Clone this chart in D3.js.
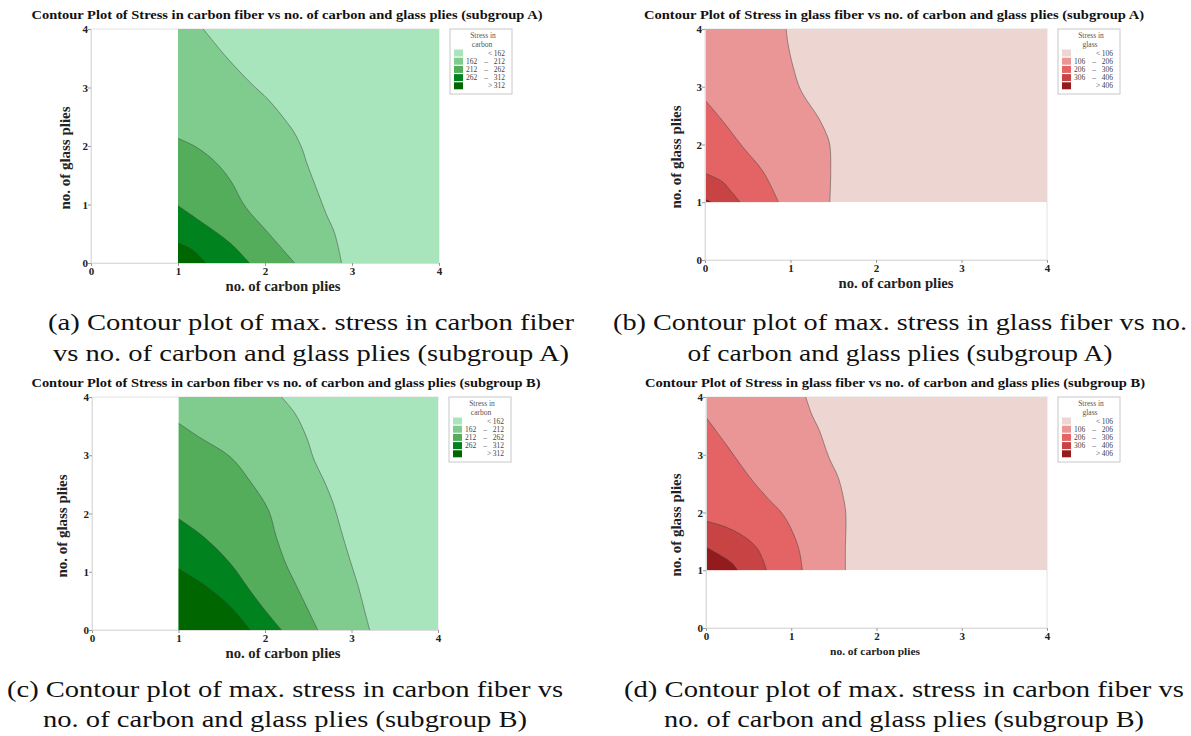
<!DOCTYPE html>
<html>
<head>
<meta charset="utf-8">
<script src="https://cdn.jsdelivr.net/npm/d3@7"></script>
<style>
  html, body { margin: 0; padding: 0; background: #fff; }
  svg { display: block; }
  text { font-family: "Liberation Serif", "DejaVu Serif", serif; }
</style>
</head>
<body>
<script>
// ---------------- DATA ----------------
const xTickValues = [0, 1, 2, 3, 4];
const yTickValues = [0, 1, 2, 3, 4];

const carbonBins = [[null, 162], [162, 212], [212, 262], [262, 312], [312, null]];
const glassBins  = [[null, 106], [106, 206], [206, 306], [306, 406], [406, null]];

const greenFills = ["#a8e5bd", "#80cc8e", "#53ad5a", "#00821f", "#006600"];
const redFills   = ["#edd6d1", "#eb9696", "#e46465", "#c84444", "#931a1d"];

// contour boundaries, [no. of carbon plies, no. of glass plies]
// (a) stress in carbon fiber, subgroup A
const carbonA_162 = [[1.29,4],[1.55,3.53],[1.84,3.07],[2.04,2.79],[2.26,2.39],[2.34,2.22],[2.43,1.94],[2.48,1.71],[2.61,1.2],[2.70,0.85],[2.80,0.51],[2.88,0]];
const carbonA_212 = [[1,2.13],[1.2,1.99],[1.42,1.74],[1.60,1.42],[1.77,0.97],[2.04,0.51],[2.34,0]];
const carbonA_262 = [[1,0.98],[1.29,0.68],[1.60,0.34],[1.82,0]];
const carbonA_312 = [[1,0.34],[1.16,0.23],[1.32,0]];
// (b) stress in glass fiber, subgroup A
const glassA_106 = [[0.95,4],[0.97,3.75],[1.03,3.35],[1.12,2.94],[1.32,2.48],[1.40,2.25],[1.46,1.99],[1.46,1]];
const glassA_206 = [[0,2.77],[0.20,2.42],[0.44,1.96],[0.68,1.53],[0.86,1]];
const glassA_306 = [[0,1.50],[0.20,1.36],[0.31,1.18],[0.41,1]];
const glassA_406 = [[0,1.05],[0.04,1.025],[0.07,1]];
// (c) stress in carbon fiber, subgroup B
const carbonB_162 = [[2.19,4],[2.35,3.71],[2.48,3.31],[2.57,2.91],[2.68,2.57],[2.79,2.17],[2.88,1.71],[2.97,1.26],[3.08,0.74],[3.15,0.34],[3.21,0]];
const carbonB_212 = [[1,3.55],[1.24,3.31],[1.60,2.97],[1.82,2.57],[2.04,2.06],[2.13,1.6],[2.24,1.14],[2.35,0.8],[2.48,0.4],[2.61,0]];
const carbonB_262 = [[1,1.91],[1.29,1.6],[1.60,1.14],[1.82,0.69],[2.0,0.34],[2.19,0]];
const carbonB_312 = [[1,1.05],[1.33,0.74],[1.60,0.4],[1.83,0]];
// (d) stress in glass fiber, subgroup B
const glassB_106 = [[1.17,4],[1.24,3.70],[1.33,3.42],[1.44,2.96],[1.55,2.61],[1.61,2.27],[1.64,1.98],[1.635,1.36],[1.635,1]];
const glassB_206 = [[0,3.65],[0.23,3.19],[0.54,2.56],[0.71,2.27],[0.91,1.95],[1.04,1.58],[1.10,1.30],[1.13,1]];
const glassB_306 = [[0,1.85],[0.23,1.75],[0.45,1.58],[0.61,1.36],[0.71,1]];
const glassB_406 = [[0,1.40],[0.19,1.24],[0.30,1.13],[0.37,1]];

const panelTitles = [
  "Contour Plot of Stress in carbon fiber vs no. of carbon and glass plies (subgroup A)",
  "Contour Plot of Stress in glass fiber vs no. of carbon and glass plies (subgroup A)",
  "Contour Plot of Stress in carbon fiber vs no. of carbon and glass plies (subgroup B)",
  "Contour Plot of Stress in glass fiber vs no. of carbon and glass plies (subgroup B)"
];
const xAxisTitle = "no. of carbon plies";
const yAxisTitle = "no. of glass plies";
const captions = [
  ["(a) Contour plot of max. stress in carbon fiber", "vs no. of carbon and glass plies (subgroup A)"],
  ["(b) Contour plot of max. stress in glass fiber vs no.", "of carbon and glass plies (subgroup A)"],
  ["(c) Contour plot of max. stress in carbon fiber vs", "no. of carbon and glass plies (subgroup B)"],
  ["(d) Contour plot of max. stress in carbon fiber vs", "no. of carbon and glass plies (subgroup B)"]
];

// ---------------- DRAW ----------------
const svg = d3.select("body").append("svg").attr("width", 1191).attr("height", 736);

const panels = [
  { left: 91, right: 439, top: 29, bottom: 263, xDom: [1, 4], yDom: [0, 4],
    bounds: [carbonA_162, carbonA_212, carbonA_262, carbonA_312], fills: greenFills,
    bins: carbonBins, legendName: "carbon", title: panelTitles[0], titleX: 287, titleY: 19, titleW: 511,
    yTitleX: 65, yTitleY: 158, xTitleX: 283, xTitleY: 291, xTitleSize: 14, xTitleW: 115 },
  { left: 705, right: 1047, top: 29, bottom: 260, xDom: [0, 4], yDom: [1, 4],
    bounds: [glassA_106, glassA_206, glassA_306, glassA_406], fills: redFills,
    bins: glassBins, legendName: "glass", title: panelTitles[1], titleX: 894, titleY: 19, titleW: 500,
    yTitleX: 676, yTitleY: 157, xTitleX: 896, xTitleY: 288, xTitleSize: 14, xTitleW: 115 },
  { left: 92, right: 438, top: 397, bottom: 630, xDom: [1, 4], yDom: [0, 4],
    bounds: [carbonB_162, carbonB_212, carbonB_262, carbonB_312], fills: greenFills,
    bins: carbonBins, legendName: "carbon", title: panelTitles[2], titleX: 286, titleY: 387, titleW: 509,
    yTitleX: 62, yTitleY: 526, xTitleX: 283, xTitleY: 658, xTitleSize: 14, xTitleW: 115 },
  { left: 706, right: 1047, top: 397, bottom: 628, xDom: [0, 4], yDom: [1, 4],
    bounds: [glassB_106, glassB_206, glassB_306, glassB_406], fills: redFills,
    bins: glassBins, legendName: "glass", title: panelTitles[3], titleX: 895, titleY: 387, titleW: 500,
    yTitleX: 676, yTitleY: 525, xTitleX: 875, xTitleY: 655, xTitleSize: 11, xTitleW: 90 }
];

panels.forEach((p, pi) => {
  const g = svg.append("g");
  const x = d3.scaleLinear().domain([0, 4]).range([p.left, p.right]);
  const y = d3.scaleLinear().domain([0, 4]).range([p.bottom, p.top]);

  // frame
  g.append("rect")
    .attr("x", p.left).attr("y", p.top)
    .attr("width", p.right - p.left).attr("height", p.bottom - p.top)
    .attr("fill", "none").attr("stroke", "#e2e2e2").attr("stroke-width", 1);

  // data region background (lowest level)
  const rx0 = x(p.xDom[0]), rx1 = x(p.xDom[1]), ry0 = y(p.yDom[1]), ry1 = y(p.yDom[0]);
  const clipId = "clip" + pi;
  g.append("clipPath").attr("id", clipId)
    .append("rect").attr("x", rx0).attr("y", ry0).attr("width", rx1 - rx0).attr("height", ry1 - ry0);
  const cg = g.append("g").attr("clip-path", `url(#${clipId})`);
  cg.append("rect").attr("x", rx0).attr("y", ry0).attr("width", rx1 - rx0).attr("height", ry1 - ry0)
    .attr("fill", p.fills[0]);

  const lineGen = d3.line().x(d => x(d[0])).y(d => y(d[1])).curve(d3.curveCatmullRom.alpha(0.5));

  p.bounds.forEach((pts, k) => {
    const corners = [[p.xDom[0], p.yDom[0]]];
    if (pts[0][1] >= p.yDom[1] - 1e-6) corners.push([p.xDom[0], p.yDom[1]]);
    const d = lineGen(pts) + corners.map(c => `L${x(c[0])},${y(c[1])}`).join("") + "Z";
    cg.append("path").attr("d", d).attr("fill", p.fills[k + 1]).attr("stroke", "none");
  });
  p.bounds.forEach(pts => {
    cg.append("path").attr("d", lineGen(pts)).attr("fill", "none")
      .attr("stroke", "#3a3a3a").attr("stroke-width", 0.6).attr("stroke-opacity", 0.8);
  });

  // axes
  const xAxis = g.append("g").attr("transform", `translate(0,${p.bottom})`)
    .call(d3.axisBottom(x).tickValues(xTickValues).tickSize(3).tickSizeOuter(0).tickPadding(1).tickFormat(d3.format("d")));
  const yAxis = g.append("g").attr("transform", `translate(${p.left},0)`)
    .call(d3.axisLeft(y).tickValues(yTickValues).tickSize(3).tickSizeOuter(0).tickPadding(0).tickFormat(d3.format("d")));
  [xAxis, yAxis].forEach(a => {
    a.select(".domain").attr("stroke", "#dcdcdc");
    a.selectAll(".tick line").attr("stroke", "#9a9a9a");
    a.selectAll(".tick text").attr("font-family", "Liberation Serif").attr("font-size", 11)
      .attr("font-weight", "bold").attr("fill", "#222");
  });

  // title
  g.append("text").attr("x", p.titleX).attr("y", p.titleY).attr("text-anchor", "middle")
    .attr("font-size", 12.5).attr("font-weight", "bold").attr("fill", "#111")
    .attr("textLength", p.titleW).attr("lengthAdjust", "spacingAndGlyphs")
    .text(p.title);

  // axis titles
  g.append("text").attr("x", p.xTitleX).attr("y", p.xTitleY).attr("text-anchor", "middle")
    .attr("font-size", p.xTitleSize).attr("font-weight", "bold").attr("fill", "#222")
    .attr("textLength", p.xTitleW).attr("lengthAdjust", "spacingAndGlyphs")
    .text(xAxisTitle);
  g.append("text").attr("transform", `translate(${p.yTitleX + 5},${p.yTitleY}) rotate(-90)`)
    .attr("text-anchor", "middle")
    .attr("font-size", 14).attr("font-weight", "bold").attr("fill", "#222")
    .attr("textLength", 103).attr("lengthAdjust", "spacingAndGlyphs")
    .text(yAxisTitle);

  // legend
  const Lx = p.right + 11, Ly = p.top;
  const lg = g.append("g");
  lg.append("rect").attr("x", Lx).attr("y", Ly).attr("width", 62).attr("height", 65)
    .attr("fill", "#fff").attr("stroke", "#c8c8c8").attr("stroke-width", 1);
  lg.append("text").attr("x", Lx + 33).attr("y", Ly + 9).attr("text-anchor", "middle")
    .attr("font-size", 7.5).attr("fill", "#555").text("Stress in");
  lg.append("text").attr("x", Lx + 32).attr("y", Ly + 18).attr("text-anchor", "middle")
    .attr("font-size", 7.5).attr("fill", "#555").text(p.legendName);
  p.bins.forEach((b, i) => {
    const cy = Ly + 24 + i * 8.2;
    lg.append("rect").attr("x", Lx + 4).attr("y", cy - 3.5).attr("width", 9).attr("height", 7)
      .attr("fill", p.fills[i]);
    const t = (tx, anchor, s) => lg.append("text").attr("x", tx).attr("y", cy + 2.6)
      .attr("text-anchor", anchor).attr("font-size", 7.5).attr("fill", "#444").text(s);
    if (b[0] === null) { t(Lx + 40, "middle", "<"); t(Lx + 55, "end", b[1]); }
    else if (b[1] === null) { t(Lx + 40, "middle", ">"); t(Lx + 55, "end", b[0]); }
    else { t(Lx + 16, "start", b[0]); t(Lx + 36, "middle", "–"); t(Lx + 55, "end", b[1]); }
  });
});

// captions
const capLayout = [
  { cx: 311, y1: 330, y2: 361, w1: 526, w2: 516 },
  { cx: 900, y1: 330, y2: 361, w1: 574, w2: 425 },
  { cx: 285, y1: 697, y2: 727, w1: 556, w2: 484 },
  { cx: 904, y1: 697, y2: 727, w1: 560, w2: 480 }
];
captions.forEach((c, i) => {
  const L = capLayout[i];
  [c[0], c[1]].forEach((s, j) => {
    svg.append("text").attr("x", L.cx).attr("y", j === 0 ? L.y1 : L.y2)
      .attr("text-anchor", "middle").attr("font-size", 24).attr("fill", "#111")
      .attr("textLength", j === 0 ? L.w1 : L.w2).attr("lengthAdjust", "spacingAndGlyphs")
      .text(s);
  });
});
</script>
</body>
</html>
